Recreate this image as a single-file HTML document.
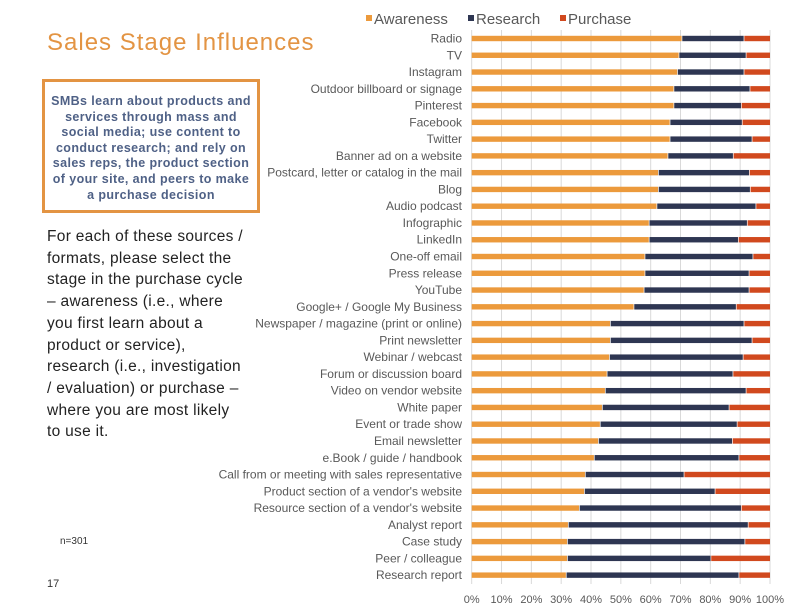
<!DOCTYPE html>
<html><head><meta charset="utf-8"><style>
body{margin:0;width:792px;height:612px;background:#fff;position:relative;overflow:hidden;font-family:"Liberation Sans",sans-serif}
.abs{position:absolute}
</style></head><body>
<div class="abs" style="left:47px;top:29px;font-size:24px;letter-spacing:1px;color:#E39443;white-space:nowrap">Sales Stage Influences</div>
<div class="abs" style="left:42px;top:79px;width:212px;height:128px;border:3px solid #E39443;"></div>
<div class="abs" style="left:45px;top:94px;width:212px;text-align:center;font-size:12.5px;line-height:15.6px;font-weight:bold;color:#4F6186;letter-spacing:0.4px;white-space:nowrap">SMBs learn about products and<br>services through mass and<br>social media; use content to<br>conduct research; and rely on<br>sales reps, the product section<br>of your site, and peers to make<br>a purchase decision</div>
<div class="abs" style="left:47px;top:226px;font-size:15.5px;line-height:21.7px;color:#222;white-space:nowrap;letter-spacing:0.3px">For each of these sources /<br>formats, please select the<br>stage in the purchase cycle<br>– awareness (i.e., where<br>you first learn about a<br>product or service),<br>research (i.e., investigation<br>/ evaluation) or purchase –<br>where you are most likely<br>to use it.</div>
<div class="abs" style="left:60px;top:536px;font-size:10px;color:#333">n=301</div>
<div class="abs" style="left:47px;top:578px;font-size:11px;color:#333">17</div>
<svg class="abs" style="left:0;top:0" width="792" height="612"></svg>
<script>
const categories=["Radio","TV","Instagram","Outdoor billboard or signage","Pinterest","Facebook","Twitter","Banner ad on a website","Postcard, letter or catalog in the mail","Blog","Audio podcast","Infographic","LinkedIn","One-off email","Press release","YouTube","Google+ / Google My Business","Newspaper / magazine (print or online)","Print newsletter","Webinar / webcast","Forum or discussion board","Video on vendor website","White paper","Event or trade show","Email newsletter","e.Book / guide / handbook","Call from or meeting with sales representative","Product section of a vendor's website","Resource section of a vendor's website","Analyst report","Case study","Peer / colleague","Research report"];
const awareness=[70.6,69.6,69.1,67.9,67.9,66.6,66.6,65.9,62.7,62.7,62.2,59.6,59.6,58.2,58.2,57.9,54.5,46.6,46.6,46.3,45.5,44.9,43.9,43.2,42.6,41.2,38.2,37.9,36.2,32.5,32.2,32.2,31.8];
const research=[20.8,22.5,22.3,25.5,22.6,24.2,27.5,21.9,30.5,30.8,33.2,32.9,29.9,36.2,34.9,35.2,34.3,44.8,47.5,44.8,42.2,47.2,42.5,45.9,44.9,48.5,33.1,43.8,54.3,60.3,59.5,48.1,57.9];
const purchase=categories.map((c,i)=>Math.max(0,100-awareness[i]-research[i]));
const ticks=[0,10,20,30,40,50,60,70,80,90,100];
const svg=document.querySelector('svg');const NS='http://www.w3.org/2000/svg';
const x0=471.7,x1=770,y0=38.5,step=16.77;
const xs=v=>x0+(x1-x0)*v/100;const ys=i=>y0+i*step;
function mk(t,a){const e=document.createElementNS(NS,t);for(const k in a)e.setAttribute(k,a[k]);svg.appendChild(e);return e;}
ticks.forEach(t=>{const g=mk('line',{x1:xs(t),x2:xs(t),y1:30,y2:584,stroke:'#d9d9d9','stroke-width':1});


const l=mk('text',{x:xs(t),y:603,'text-anchor':'middle','font-size':11,fill:'#595959'});l.textContent=t+'%';

});
const colors=['#EC9A3C','#2E3652','#D1491E'];const series=[awareness,research,purchase];
categories.forEach((c,i)=>{const y=ys(i);
const lb=mk('text',{x:462,y:y+4,'text-anchor':'end','font-size':12,fill:'#595959'});lb.textContent=c;


let acc=0;series.forEach((s,k)=>{const r=mk('rect',{x:xs(acc),y:y-2.7,width:Math.max(0,xs(acc+s[i])-xs(acc)-(k<2?0.7:0)),height:5.4,fill:colors[k]});


acc+=s[i];});});
const legend=[['Awareness',366],['Research',468],['Purchase',560]];
legend.forEach((l,k)=>{const r=mk('rect',{x:l[1],y:15,width:6,height:6,fill:colors[k]});


const t=mk('text',{x:l[1]+8,y:24,'font-size':15,fill:'#595959'});t.textContent=l[0];

});
</script>
</body></html>
